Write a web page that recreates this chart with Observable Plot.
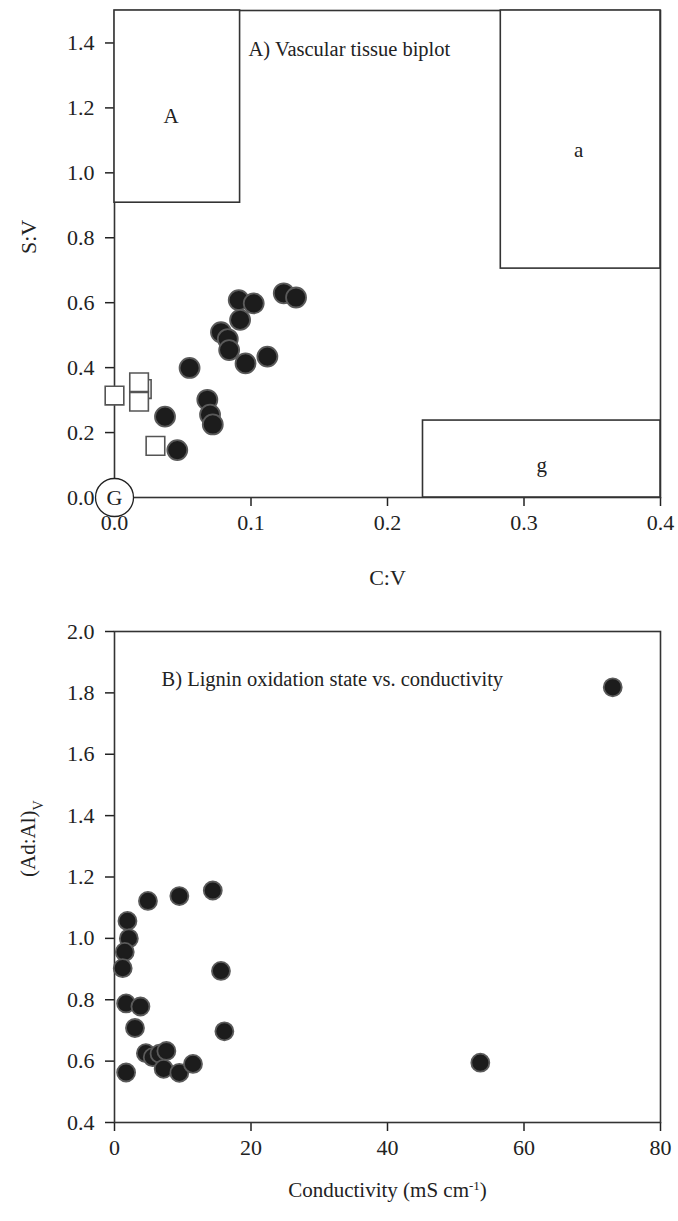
<!DOCTYPE html>
<html><head><meta charset="utf-8">
<script src="https://cdn.jsdelivr.net/npm/d3@7"></script>
<script src="https://cdn.jsdelivr.net/npm/@observablehq/plot@0.6"></script>
<style>
body{margin:0;background:#fff;}
#chart svg{display:block;}
</style></head><body><div id="chart"></div>
<script>
// Panel A: vascular tissue biplot (C:V vs S:V)
const cvCircles = [0.091, 0.102, 0.124, 0.133, 0.092, 0.078, 0.083, 0.084, 0.096, 0.112, 0.055, 0.068, 0.070, 0.072, 0.037, 0.046];
const svCircles = [0.608, 0.598, 0.629, 0.616, 0.547, 0.509, 0.488, 0.454, 0.413, 0.434, 0.399, 0.301, 0.255, 0.225, 0.249, 0.146];
const cvSquares = [0.000, 0.020, 0.018, 0.018, 0.030];
const svSquares = [0.314, 0.334, 0.355, 0.295, 0.159];
const boxNames = ["A", "a", "g"];
const boxCV1 = [0.000, 0.283, 0.226];
const boxCV2 = [0.092, 0.400, 0.400];
const boxSV1 = [0.908, 0.705, 0.000];
const boxSV2 = [1.500, 1.500, 0.237];
const boxLabelCV = [0.0415, 0.340, 0.313];
const boxLabelSV = [1.175, 1.068, 0.100];
const originName = ["G"];
const xTicksA = [0, 0.1, 0.2, 0.3, 0.4];
const yTicksA = [0, 0.2, 0.4, 0.6, 0.8, 1.0, 1.2, 1.4];

// Panel B: lignin oxidation state vs conductivity
const conductivity = [4.9, 9.5, 14.4, 1.9, 2.1, 1.5, 1.2, 15.6, 1.7, 3.8, 3.0, 16.1, 4.6, 5.6, 6.6, 7.6, 7.2, 9.5, 11.5, 1.7, 53.6, 73.0];
const adAl = [1.122, 1.138, 1.156, 1.057, 1.000, 0.956, 0.903, 0.894, 0.788, 0.778, 0.708, 0.697, 0.626, 0.613, 0.624, 0.633, 0.575, 0.562, 0.591, 0.563, 0.595, 1.818];
const xTicksB = [0, 20, 40, 60, 80];
const yTicksB = [0.4, 0.6, 0.8, 1.0, 1.2, 1.4, 1.6, 1.8, 2.0];

const font = "'Liberation Serif', 'Times New Roman', serif";
const ink = "#222";
const fs = 21;

const circlesA = cvCircles.map((x, i) => ({x, y: svCircles[i]}));
const squaresA = cvSquares.map((x, i) => ({x, y: svSquares[i]}));
const boxes = boxNames.map((name, i) => ({name, x1: boxCV1[i], x2: boxCV2[i], y1: boxSV1[i], y2: boxSV2[i], lx: boxLabelCV[i], ly: boxLabelSV[i]}));
const origin = originName.map(t => ({t, x: 0, y: 0}));
const pointsB = conductivity.map((x, i) => ({x, y: adAl[i]}));

const axisOpts = {tickSize: 9, stroke: "#222", strokeWidth: 1.5, fontSize: 22, fill: ink, label: null};

const plotA = Plot.plot({
  width: 678, height: 610,
  marginLeft: 114, marginRight: 18, marginTop: 10, marginBottom: 113,
  style: {fontFamily: font, fontSize: fs + "px", color: ink, background: "white", overflow: "visible"},
  x: {domain: [0, 0.4]},
  y: {domain: [0, 1.5]},
  marks: [
    Plot.axisX({...axisOpts, ticks: xTicksA, tickFormat: d3.format(".1f"), tickPadding: 8}),
    Plot.axisY({...axisOpts, ticks: yTicksA, tickFormat: d3.format(".1f"), tickPadding: 11}),
    Plot.frame({stroke: "#333", strokeWidth: 1.6}),
    Plot.rect(boxes, {x1: "x1", x2: "x2", y1: "y1", y2: "y2", fill: "white", stroke: "#333", strokeWidth: 1.6}),
    Plot.text(boxes, {x: "lx", y: "ly", text: "name", fontSize: fs, fill: ink}),
    Plot.dot(squaresA, {x: "x", y: "y", symbol: "square", r: 10.5, fill: "white", stroke: "#555", strokeWidth: 1.6}),
    Plot.dot(circlesA, {x: "x", y: "y", r: 10, fill: "#1c1c1c", stroke: "#5a5a5a", strokeWidth: 1.8}),
    Plot.dot(origin, {x: "x", y: "y", r: 19, fill: "white", stroke: "#222", strokeWidth: 1.3}),
    Plot.text(origin, {x: "x", y: "y", text: "t", fontSize: 22, fill: ink}),
    Plot.text(["A) Vascular tissue biplot"], {frameAnchor: "top-left", dx: 134, dy: 31, textAnchor: "start", fontSize: 20.5, fill: ink}),
    Plot.text(["C:V"], {frameAnchor: "bottom", dy: 87, fontSize: 22, fill: ink}),
    Plot.text(["S:V"], {frameAnchor: "left", dx: -86, rotate: -90, fontSize: 22, fill: ink})
  ]
});

const plotB = Plot.plot({
  width: 678, height: 611,
  marginLeft: 114, marginRight: 18, marginTop: 21, marginBottom: 99,
  style: {fontFamily: font, fontSize: fs + "px", color: ink, background: "white", overflow: "visible"},
  x: {domain: [0, 80]},
  y: {domain: [0.4, 2.0]},
  marks: [
    Plot.axisX({...axisOpts, ticks: xTicksB, tickPadding: 8}),
    Plot.axisY({...axisOpts, ticks: yTicksB, tickFormat: d3.format(".1f"), tickPadding: 11}),
    Plot.frame({stroke: "#333", strokeWidth: 1.6}),
    Plot.dot(pointsB, {x: "x", y: "y", r: 9, fill: "#1c1c1c", stroke: "#5a5a5a", strokeWidth: 1.8}),
    Plot.text(["B) Lignin oxidation state vs. conductivity"], {frameAnchor: "top-left", dx: 47, dy: 40, textAnchor: "start", fontSize: 20.5, fill: ink}),
    Plot.text(["Conductivity (mS cm-1)"], {frameAnchor: "bottom", dy: 74, fontSize: fs, fill: ink}),
    Plot.text(["(Ad:Al)V"], {frameAnchor: "left", dx: -86, rotate: -90, fontSize: fs, fill: ink})
  ]
});

// subscripts / superscripts as real text
d3.select(plotB).selectAll("text").each(function() {
  const t = this.textContent;
  if (t === "(Ad:Al)V") {
    const s = d3.select(this); s.text("(Ad:Al)");
    s.append("tspan").attr("baseline-shift", "sub").attr("font-size", "14px").text("V");
  } else if (t === "Conductivity (mS cm-1)") {
    const s = d3.select(this); s.text("Conductivity (mS cm");
    s.append("tspan").attr("baseline-shift", "super").attr("font-size", "13px").text("-1");
    s.append("tspan").text(")");
  }
});

document.getElementById("chart").append(plotA, plotB);
</script></body></html>
